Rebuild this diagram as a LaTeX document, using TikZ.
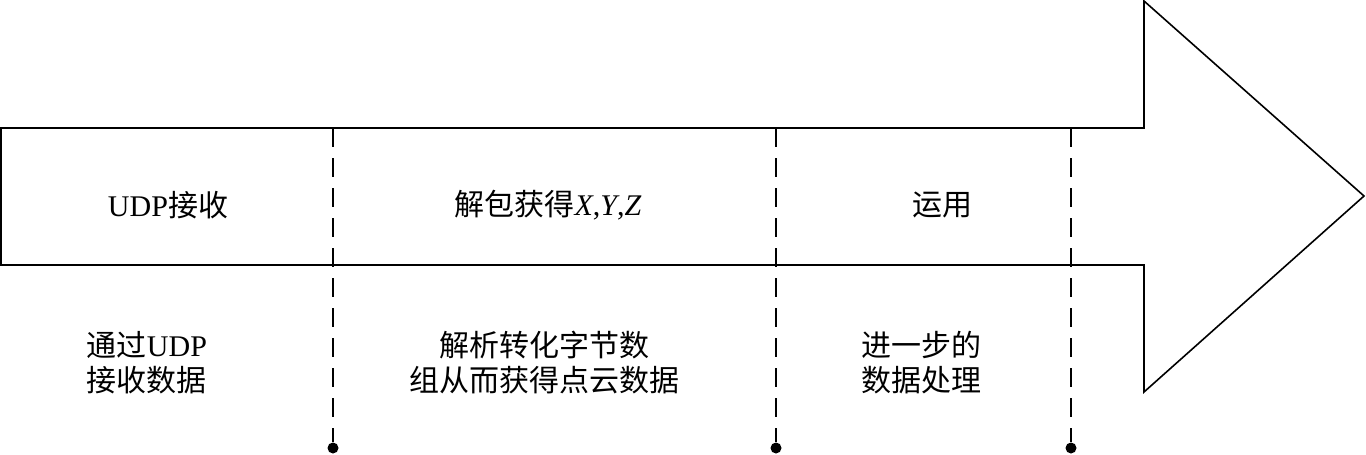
\documentclass[tikz,border=0pt]{standalone}
\usepackage{fontspec}
\setmainfont{Liberation Serif}
\newfontfamily\cjk{Noto Sans CJK SC}
\newcommand{\zh}[1]{{\cjk #1}}

\begin{document}
\begin{tikzpicture}[x=1pt,y=-1pt,
  outline/.style={line width=1.6pt,line join=miter},
  divider/.style={line width=1.4pt,dash pattern={on 19pt off 11pt}},
  enddot/.style={circle,fill=black,inner sep=0pt,minimum size=11pt},
  label/.style={inner sep=0.75pt,font=\fontsize{30}{35}\selectfont}]
\useasboundingbox (0,0) rectangle (1366,455);

%Arrow outline
\draw [outline] (1,128) -- (1144,128) -- (1144,1) -- (1364,196) -- (1144,392) -- (1144,265) -- (1,265) -- cycle ;

%Divider tops and end dots
\coordinate (t1) at (333,128);
\coordinate (t2) at (776,128);
\coordinate (t3) at (1071,128);
\node [enddot] (d1) at (333,448) {};
\node [enddot] (d2) at (776,448) {};
\node [enddot] (d3) at (1071,448) {};

%Straight Lines
\draw [divider] (t1) -- (d1) ;
%Straight Lines
\draw [divider] (t2) -- (d2) ;
%Straight Lines
\draw [divider] (t3) -- (d3) ;

% Text Node
\node [label] (recv) at (168,205) {UDP\zh{接收}};
% Text Node
\node [label] (parse) at (548,205) {\zh{解包获得}\textit{X},\textit{Y},\textit{Z}};
% Text Node
\node [label] (use) at (942,205) {\zh{运用}};
% Text Node
\node [label,anchor=west,align=left] (recvnote) at (86,363) {\zh{通过}UDP\\\zh{接收数据}};
% Text Node
\node [label,align=center] (parsenote) at (544,363) {\zh{解析转化字节数}\\\zh{组从而获得点云数据}};
% Text Node
\node [label,anchor=west,align=left] (usenote) at (861,363) {\zh{进一步的}\\\zh{数据处理}};

\end{tikzpicture}
\end{document}
